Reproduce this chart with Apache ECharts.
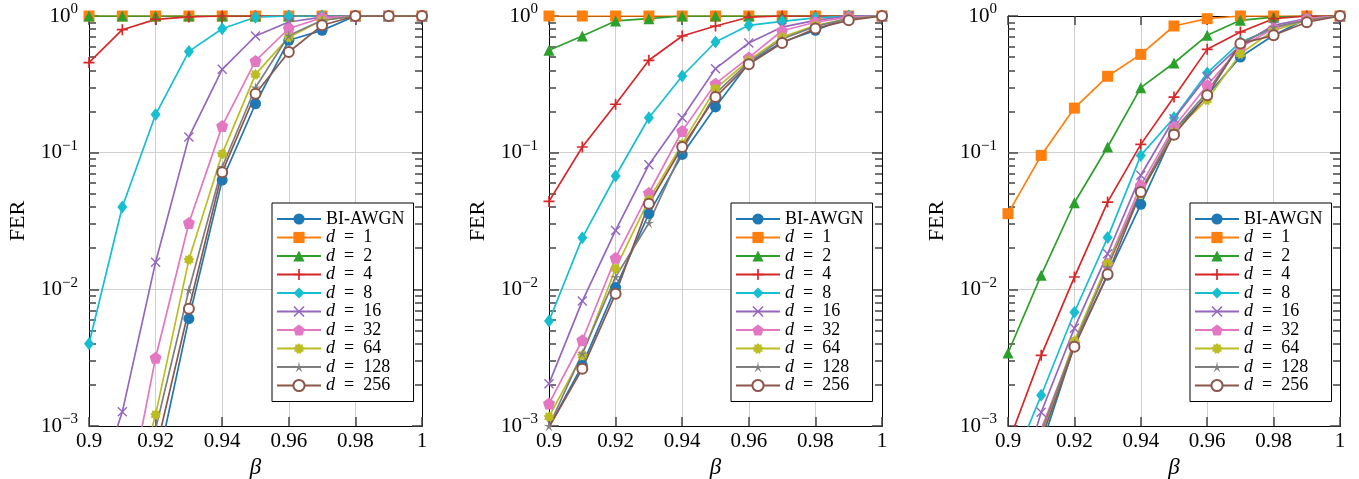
<!DOCTYPE html>
<html><head><meta charset="utf-8">
<script src="https://cdn.jsdelivr.net/npm/echarts@6/dist/echarts.min.js"></script>
<style>html,body{margin:0;padding:0;background:#fff}#c{width:1359px;height:479px}</style>
</head><body><div id="c"></div><script>
const betas = [0.90,0.91,0.92,0.93,0.94,0.95,0.96,0.97,0.98,0.99,1.00];
const seriesNames = ['BI-AWGN','d = 1','d = 2','d = 4','d = 8','d = 16','d = 32','d = 64','d = 128','d = 256'];
const xTickLabels = ['0.9','0.92','0.94','0.96','0.98','1'];
const yDecades = [-3,-2,-1,0];
const minorMantissas = [2,3,4,5,6,7,8,9];

// Panel A (left)
const A_awgn = [1e-6,3e-5,4.5e-4,0.0061,0.063,0.228,0.664,0.785,1,1,1];
const A_d1   = [1,1,1,1,1,1,1,1,1,1,1];
const A_d2   = [1,1,1,1,1,1,1,1,1,1,1];
const A_d4   = [0.456,0.794,0.945,0.985,1,1,1,1,1,1,1];
const A_d8   = [0.0040,0.040,0.19,0.551,0.807,0.98,1,1,1,1,1];
const A_d16  = [2.3e-4,0.00127,0.0158,0.130,0.407,0.714,0.904,0.98,1,1,1];
const A_d32  = [1e-5,1.8e-4,0.00316,0.0306,0.157,0.469,0.81,0.97,1,1,1];
const A_d64  = [5e-6,1.5e-4,0.00121,0.0165,0.098,0.374,0.70,0.93,1,1,1];
const A_d128 = [2e-6,6e-5,0.00095,0.0099,0.0785,0.30,0.72,0.93,1,1,1];
const A_d256 = [2e-6,5e-5,6.5e-4,0.0072,0.072,0.27,0.545,0.855,1,1,1];

// Panel B (middle)
const B_awgn = [0.00098,0.00278,0.0103,0.0358,0.097,0.216,0.453,0.645,0.785,0.98,1];
const B_d1   = [1,1,1,1,1,1,1,1,1,1,1];
const B_d2   = [0.561,0.714,0.92,0.956,1,1,1,1,1,1,1];
const B_d4   = [0.044,0.11,0.226,0.474,0.714,0.845,0.98,1,1,1,1];
const B_d8   = [0.00586,0.0238,0.0675,0.18,0.364,0.645,0.855,0.914,0.97,1,1];
const B_d16  = [0.00204,0.0082,0.027,0.0817,0.18,0.412,0.634,0.83,0.93,1,1];
const B_d32  = [0.00146,0.00424,0.017,0.0507,0.144,0.32,0.496,0.78,0.90,0.98,1];
const B_d64  = [0.00117,0.0033,0.0142,0.0453,0.116,0.294,0.474,0.70,0.85,0.956,1];
const B_d128 = [0.001,0.0034,0.0123,0.0306,0.104,0.27,0.46,0.68,0.84,0.956,1];
const B_d256 = [0.00098,0.00262,0.0093,0.0423,0.11,0.255,0.443,0.634,0.81,0.93,1];

// Panel C (right)
const C_awgn = [1e-4,7e-4,0.0039,0.0127,0.0419,0.142,0.263,0.501,0.722,0.956,1];
const C_d1   = [0.0358,0.0955,0.212,0.362,0.524,0.845,0.956,1,1,1,1];
const C_d2   = [0.00342,0.0127,0.043,0.11,0.299,0.453,0.722,0.93,0.98,1,1];
const C_d4   = [7.4e-4,0.00329,0.0123,0.0435,0.115,0.255,0.57,0.764,0.956,1,1];
const C_d8   = [4.3e-4,0.00168,0.0068,0.0239,0.0955,0.18,0.383,0.645,0.81,0.956,1];
const C_d16  = [2e-4,0.00126,0.0052,0.0182,0.0683,0.177,0.362,0.61,0.855,0.956,1];
const C_d32  = [1.5e-4,0.00095,0.0040,0.0154,0.0577,0.154,0.311,0.59,0.81,0.956,1];
const C_d64  = [1.2e-4,0.00085,0.0042,0.0154,0.05,0.142,0.244,0.53,0.785,0.93,1];
const C_d128 = [1.2e-4,0.0009,0.0040,0.0145,0.053,0.146,0.278,0.63,0.83,0.93,1];
const C_d256 = [1e-4,0.0008,0.0038,0.0129,0.0515,0.1355,0.263,0.628,0.722,0.90,1];

const panels = [
  [A_awgn,A_d1,A_d2,A_d4,A_d8,A_d16,A_d32,A_d64,A_d128,A_d256],
  [B_awgn,B_d1,B_d2,B_d4,B_d8,B_d16,B_d32,B_d64,B_d128,B_d256],
  [C_awgn,C_d1,C_d2,C_d4,C_d8,C_d16,C_d32,C_d64,C_d128,C_d256]
];

const SERIF = 'Liberation Serif';
const TICK = '#444';
const colors = ['#1f77b4','#ff7f0e','#2ca02c','#d62728','#17becf','#9467bd','#e377c2','#bcbd22','#7f7f7f','#8c564b'];
function starPath(n, ro, ri) {
  let s = 'path://';
  for (let k = 0; k < 2*n; k++) {
    const a = -Math.PI/2 + k*Math.PI/n;
    const r = (k%2===0) ? ro : ri;
    s += (k===0?'M':'L') + (r*Math.cos(a)).toFixed(3) + ',' + (r*Math.sin(a)).toFixed(3) + ' ';
  }
  return s + 'Z';
}
const PLUS = 'path://M-0.9,-6 L0.9,-6 L0.9,-0.9 L6,-0.9 L6,0.9 L0.9,0.9 L0.9,6 L-0.9,6 L-0.9,0.9 L-6,0.9 L-6,-0.9 L-0.9,-0.9 Z';
const CROSS = 'path://M-6,-4.8 L-4.8,-6 L0,-1.2 L4.8,-6 L6,-4.8 L1.2,0 L6,4.8 L4.8,6 L0,1.2 L-4.8,6 L-6,4.8 L-1.2,0 Z';
const PENTA = starPath(5, 10, 8.09);
const BLOB = starPath(9, 10, 7.2);
const STAR5 = starPath(5, 10, 2.6);
const symbols = ['circle','rect','triangle',PLUS,'diamond',CROSS,PENTA,BLOB,STAR5,'circle'];
const sizes = [11,11,11,11,[10,13],10,12,11,11,10];

const grids = [
  {left:89, top:16, width:333, height:410},
  {left:549, top:16, width:333, height:410},
  {left:1008, top:16, width:332, height:410}
];
const minorVals = [];
yDecades.slice(0,3).forEach(e => minorMantissas.forEach(m => minorVals.push(e + Math.log10(m))));

const xAxis = [], yAxis = [], series = [], legend = [];
grids.forEach((g, p) => {
  xAxis.push({
    gridIndex:p, type:'value', min:0.9, max:1, interval:0.02, position:'bottom',
    axisLine:{show:true, onZero:false, lineStyle:{color:'#000', width:1}},
    axisTick:{show:true, inside:true, length:9, lineStyle:{color:TICK, width:1.5}},
    axisLabel:{margin:5, fontFamily:SERIF, fontSize:21, color:'#000',
      formatter: v => { const i = Math.round((v-0.9)/0.02); return xTickLabels[i] || ''; }},
    splitLine:{show:true, lineStyle:{color:'#d0d0d0', width:1}},
    name:'β', nameLocation:'middle', nameGap:15,
    nameTextStyle:{fontFamily:SERIF, fontStyle:'italic', fontSize:23, color:'#000'}
  });
  xAxis.push({
    gridIndex:p, type:'value', min:0.9, max:1, interval:0.02, position:'top',
    axisLine:{show:true, onZero:false, lineStyle:{color:'#000', width:1}},
    axisTick:{show:true, inside:true, length:9, lineStyle:{color:TICK, width:1.5}},
    axisLabel:{show:false}, splitLine:{show:false}
  });
  yAxis.push({
    gridIndex:p, type:'log', logBase:10, min:0.001, max:1, position:'left',
    axisLine:{show:true, onZero:false, lineStyle:{color:'#000', width:1}},
    axisTick:{show:true, inside:true, length:10, lineStyle:{color:TICK, width:1.5}},
    axisLabel:{margin:11, color:'#000',
      formatter: v => { const e = Math.round(Math.log10(v)); return '{b|10}{s|' + (e===0 ? '0' : '\u2212' + (-e)) + '}'; },
      rich:{
        b:{fontFamily:SERIF, fontSize:21, lineHeight:28, color:'#000'},
        s:{fontFamily:SERIF, fontSize:15, lineHeight:15, verticalAlign:'top', color:'#000'}
      }},
    splitLine:{show:true, lineStyle:{color:'#d0d0d0', width:1}},
    name:'FER', nameLocation:'middle', nameGap:60,
    nameTextStyle:{fontFamily:SERIF, fontSize:22, color:'#000'}
  });
  yAxis.push({
    gridIndex:p, type:'log', logBase:10, min:0.001, max:1, position:'right',
    axisLine:{show:true, onZero:false, lineStyle:{color:'#000', width:1}},
    axisTick:{show:true, inside:true, length:10, lineStyle:{color:TICK, width:1.5}},
    axisLabel:{show:false}, splitLine:{show:false}
  });
  ['left','right'].forEach(pos => yAxis.push({
    gridIndex:p, type:'value', min:-3, max:0, position:pos,
    axisLine:{show:true, lineStyle:{color:'#000'}},
    axisTick:{show:true, inside:true, length:7, customValues:minorVals, lineStyle:{color:TICK, width:1.5}},
    axisLabel:{show:false}, splitLine:{show:false}
  }));
  panels[p].forEach((vals, s) => {
    const hollow = s === 9;
    series.push({
      name: seriesNames[s], type:'line', xAxisIndex:2*p, yAxisIndex:4*p,
      data: betas.map((b, i) => [b, vals[i]]),
      symbol: symbols[s], symbolSize: sizes[s], showSymbol:true, clip:true,
      color: colors[s],
      lineStyle:{color:colors[s], width:1.7},
      itemStyle: hollow ? {color:'#fff', borderColor:colors[s], borderWidth:2} : {color:colors[s]},
      emphasis:{disabled:true}, animation:false
    });
  });
  const lx = [272, 731, 1190][p];
  legend.push({
    left: lx, top: 203, orient:'vertical', selectedMode:false,
    data: seriesNames,
    itemWidth:44, itemHeight:14, itemGap:0.5,
    padding:[7,9,7,4],
    borderColor:'#000', borderWidth:1, backgroundColor:'#fff',
    textStyle:{fontFamily:SERIF, fontSize:18, lineHeight:18, color:'#000',
      rich:{i:{fontFamily:SERIF, fontSize:18, fontStyle:'italic', color:'#000'}}},
    formatter: name => name === 'BI-AWGN' ? name : '{i|d}\u2002=\u2002' + name.split(' = ')[1]
  });
});

const chart = echarts.init(document.getElementById('c'), null, {renderer:'canvas'});
chart.setOption({
  animation:false,
  backgroundColor:'#fff',
  grid: grids.map(g => Object.assign({containLabel:false, outerBoundsMode:'none'}, g)),
  xAxis, yAxis, series, legend
});
</script></body></html>
